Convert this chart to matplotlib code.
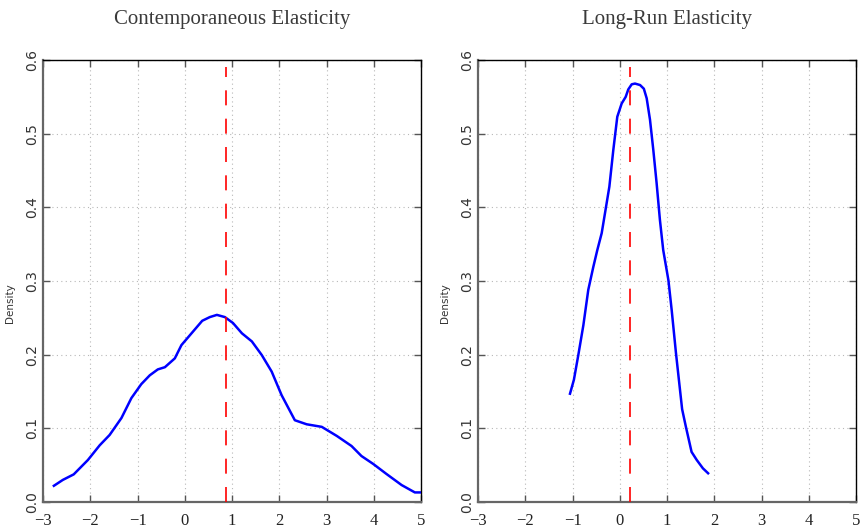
import matplotlib
matplotlib.use("Agg")
import matplotlib.pyplot as plt
import numpy as np

# Contemporaneous elasticity density
x_cont = [-2.77, -2.58, -2.35, -2.05, -1.80, -1.59, -1.34, -1.13, -0.92, -0.74, -0.57, -0.42,
          -0.21, -0.07, 0.17, 0.37, 0.53, 0.68, 0.85, 1.02, 1.21, 1.42, 1.63, 1.84, 2.05,
          2.33, 2.58, 2.90, 3.22, 3.53, 3.74, 3.99, 4.27, 4.59, 4.87, 5.0]
y_cont = [0.022, 0.030, 0.0375, 0.057, 0.077, 0.091, 0.114, 0.141, 0.160, 0.172, 0.180, 0.183,
          0.195, 0.213, 0.231, 0.246, 0.251, 0.254, 0.251, 0.243, 0.229, 0.218, 0.1995, 0.177, 0.145,
          0.111, 0.1055, 0.102, 0.0896, 0.076, 0.0624, 0.0516, 0.038, 0.023, 0.013, 0.013]
mean_cont = 0.867

# Long-run elasticity density
x_lr = [-1.053, -0.97, -0.877, -0.77, -0.666, -0.56, -0.475, -0.382, -0.22, -0.136, -0.052,
        0.041, 0.126, 0.18, 0.253, 0.323, 0.43, 0.51, 0.57, 0.64, 0.71, 0.78, 0.85, 0.92,
        1.03, 1.10, 1.19, 1.26, 1.32, 1.40, 1.52, 1.63, 1.76, 1.87]
y_lr = [0.147, 0.166, 0.1995, 0.24, 0.288, 0.319, 0.342, 0.365, 0.428, 0.478, 0.523,
        0.541, 0.550, 0.560, 0.567, 0.568, 0.566, 0.561, 0.548, 0.519, 0.478, 0.433, 0.383, 0.342,
        0.301, 0.26, 0.202, 0.161, 0.126, 0.102, 0.068, 0.057, 0.0457, 0.039]
mean_lr = 0.217

titles = ["Contemporaneous Elasticity", "Long-Run Elasticity"]
xticks = [-3, -2, -1, 0, 1, 2, 3, 4, 5]
yticks = [0.0, 0.1, 0.2, 0.3, 0.4, 0.5, 0.6]
ytick_labels = ["0.0", "0.1", "0.2", "0.3", "0.4", "0.5", "0.6"]

fig = plt.figure(figsize=(8.63, 5.32), dpi=100)
W, H = 863, 532
ax1 = fig.add_axes([43 / W, 30 / H, 378 / W, 442 / H])
ax2 = fig.add_axes([478 / W, 30 / H, 378 / W, 442 / H])

serif = dict(family="Liberation Serif")

for ax, xs, ys, m, t in [(ax1, x_cont, y_cont, mean_cont, titles[0]),
                         (ax2, x_lr, y_lr, mean_lr, titles[1])]:
    ax.plot(xs, ys, color="#0000ff", lw=1.8, zorder=3)
    ax.plot([m, m], [0, 0.59], color="#ff0000", lw=1.2, dashes=(9, 8), zorder=4)
    ax.set_xlim(-3, 5)
    ax.set_ylim(0, 0.6)
    ax.set_xticks(xticks)
    ax.set_xticklabels([str(v).replace("-", "\u2212") for v in xticks], fontsize=12,
                       color="#222222", **serif)
    ax.set_yticks(yticks)
    ax.set_yticklabels(ytick_labels, rotation=90, va="center", fontsize=10,
                       family="DejaVu Sans", color="#333333")
    ax.grid(True, color="#b8b8b8", linestyle=(0, (1, 3)), lw=0.8)
    ax.tick_params(direction="in", length=5, top=True, right=True, color="#555555",
                   width=1)
    ax.tick_params(axis="x", pad=8)
    ax.tick_params(axis="y", pad=3)
    for s in ["left", "bottom"]:
        ax.spines[s].set_color("#666666")
        ax.spines[s].set_linewidth(1.6)
    for s in ["top", "right"]:
        ax.spines[s].set_color("#000000")
        ax.spines[s].set_linewidth(1.0)
    ax.set_title(t, fontsize=15, color="#3a3a3a", pad=26, **serif)
    ax.set_ylabel("Density", fontsize=7.5, family="DejaVu Sans", color="#333333")
    ax.yaxis.set_label_coords(-0.074, 0.45)

fig.savefig("out.png", dpi=100)
